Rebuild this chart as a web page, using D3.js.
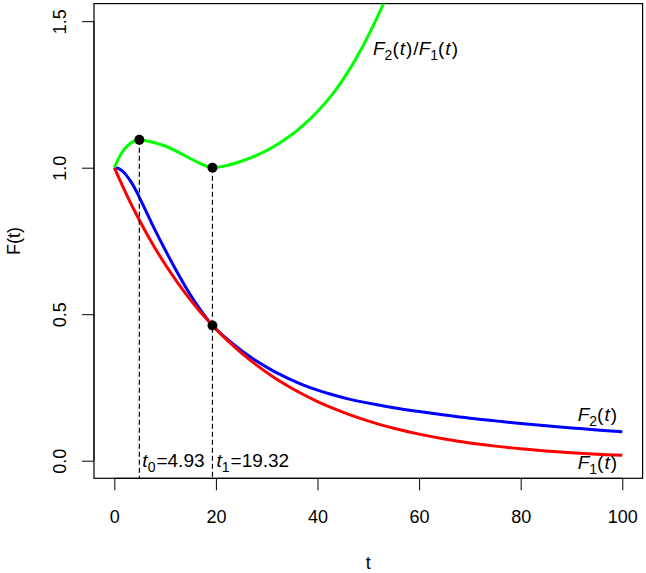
<!DOCTYPE html>
<html>
<head>
<meta charset="utf-8">
<script src="https://cdn.jsdelivr.net/npm/d3@7"></script>
<style>
  html, body { margin: 0; padding: 0; background: #fff; }
  svg { display: block; font-family: "Liberation Sans", Arial, sans-serif; }
</style>
</head>
<body>
<svg id="chart" width="646" height="573"></svg>
<script>
// ---- data ----
const tGrid = [0, 1, 2, 3, 4, 4.93, 6, 8, 10, 12, 14, 16, 18, 19.32, 22, 25, 28, 31, 34, 37, 40, 43, 46, 49, 52, 55, 60, 65, 70, 75, 80, 85, 90, 95, 100];
const F1 = [1, 0.9608, 0.9231, 0.8869, 0.8521, 0.8212, 0.7866, 0.7261, 0.6703, 0.6188, 0.5712, 0.5273, 0.4868, 0.4617, 0.4148, 0.3679, 0.3263, 0.2894, 0.2567, 0.2276, 0.2019, 0.1791, 0.1588, 0.1409, 0.1249, 0.1108, 0.0907, 0.0743, 0.0608, 0.0498, 0.0408, 0.0334, 0.0273, 0.0224, 0.0183];
const F2 = [1, 0.996, 0.982, 0.959, 0.931, 0.899, 0.860, 0.788, 0.720, 0.655, 0.594, 0.539, 0.490, 0.4617, 0.418, 0.376, 0.340, 0.309, 0.283, 0.260, 0.241, 0.225, 0.211, 0.200, 0.190, 0.181, 0.168, 0.156, 0.145, 0.136, 0.127, 0.119, 0.112, 0.105, 0.099];
const ratioT = [0, 1, 2, 3, 4, 4.93, 6, 8, 10, 12, 14, 16, 18, 19.32, 22, 25, 28, 31, 34, 37, 40, 43, 46, 49, 52, 55];
const ratio = [1.0, 1.037, 1.064, 1.081, 1.092, 1.095, 1.093, 1.085, 1.074, 1.058, 1.040, 1.022, 1.006, 1.000, 1.007, 1.022, 1.042, 1.068, 1.101, 1.142, 1.192, 1.252, 1.327, 1.417, 1.522, 1.642];
const t0 = 4.93, t1 = 19.32;
const t0Ratio = 1.095, t1Ratio = 1.0, t1F = 0.4617;
const xTicks = [0, 20, 40, 60, 80, 100];
const yTicks = [0.0, 0.5, 1.0, 1.5];
const yTickLabels = ["0.0", "0.5", "1.0", "1.5"];

// ---- layout ----
const L = 94, R = 642.6, T = 3.6, B = 478.3;
const svg = d3.select("#chart");
const x = d3.scaleLinear().domain([-4, 104]).range([L, R]);
const y = d3.scaleLinear().domain([-0.06, 1.56]).range([B, T]);
const FS = 18;

svg.append("defs").append("clipPath").attr("id", "clip")
  .append("rect").attr("x", L).attr("y", T).attr("width", R - L).attr("height", B - T);

// axes
const xAxis = svg.append("g").attr("transform", `translate(0,${B})`)
  .call(d3.axisBottom(x).tickValues(xTicks).tickSize(12).tickPadding(30).tickFormat(d3.format("d")));
xAxis.select(".domain").attr("d", `M${x(0)},0H${x(100)}`).attr("stroke", "#000");
xAxis.selectAll("text").attr("font-size", FS).attr("font-family", "Liberation Sans, Arial, sans-serif").attr("dy", 0).attr("y", 45);
xAxis.selectAll("line").attr("stroke", "#000");

const yAxis = svg.append("g").attr("transform", `translate(${L},0)`)
  .call(d3.axisLeft(y).tickValues(yTicks).tickSize(12).tickFormat((d, i) => yTickLabels[i]));
yAxis.select(".domain").attr("d", `M0,${y(0)}V${y(1.5)}`).attr("stroke", "#000");
yAxis.selectAll("line").attr("stroke", "#000");
yAxis.selectAll("text")
  .attr("font-size", FS).attr("font-family", "Liberation Sans, Arial, sans-serif")
  .attr("x", null).attr("dy", null).attr("text-anchor", "middle")
  .attr("transform", "translate(-28,0) rotate(-90)")
  .attr("y", 0);

// box
svg.append("rect").attr("x", L).attr("y", T).attr("width", R - L).attr("height", B - T)
  .attr("fill", "none").attr("stroke", "#000").attr("stroke-width", 1.2);

// axis titles
svg.append("text").attr("x", x(50)).attr("y", 569).attr("text-anchor", "middle")
  .attr("font-size", FS).text("t");
svg.append("text").attr("transform", `translate(20,${(T + B) / 2}) rotate(-90)`)
  .attr("text-anchor", "middle").attr("font-size", FS).text("F(t)");

// curves
const plot = svg.append("g").attr("clip-path", "url(#clip)");
const line = d3.line().x(d => x(d[0])).y(d => y(d[1])).curve(d3.curveCatmullRom.alpha(0.5));
plot.append("path").datum(tGrid.map((t, i) => [t, F2[i]]))
  .attr("d", line).attr("fill", "none").attr("stroke", "#0000ff").attr("stroke-width", 3);
plot.append("path").datum(tGrid.map((t, i) => [t, F1[i]]))
  .attr("d", line).attr("fill", "none").attr("stroke", "#ff0000").attr("stroke-width", 3);
plot.append("path").datum(ratioT.map((t, i) => [t, ratio[i]]))
  .attr("d", line).attr("fill", "none").attr("stroke", "#00ff00").attr("stroke-width", 3);

// dashed verticals
[[t0, t0Ratio], [t1, t1Ratio]].forEach(([t, v]) => {
  svg.append("line").attr("x1", x(t)).attr("x2", x(t)).attr("y1", y(v)).attr("y2", B)
    .attr("stroke", "#000").attr("stroke-width", 1.2).attr("stroke-dasharray", "5,3");
});

// points
[[t0, t0Ratio], [t1, t1Ratio], [t1, t1F]].forEach(([t, v]) => {
  svg.append("circle").attr("cx", x(t)).attr("cy", y(v)).attr("r", 5).attr("fill", "#000");
});

// math-like labels
function mathLabel(parts, px, py, anchor) {
  const tx = svg.append("text").attr("x", px).attr("y", py).attr("font-size", 19)
    .attr("text-anchor", anchor || "start");
  parts.forEach(p => {
    const s = tx.append("tspan").text(p.s);
    if (p.it) s.attr("font-style", "italic");
    if (p.sub) s.attr("font-size", 14).attr("dy", 5);
    if (p.up) s.attr("dy", -5);
    if (p.dx) s.attr("dx", p.dx);
  });
  return tx;
}
const Fsub = n => [{ s: "F", it: true }, { s: n, sub: true }, { s: "(", up: true }, { s: "t", it: true, dx: 1 }, { s: ")", dx: 1 }];

mathLabel([...Fsub("2"), { s: "/", dx: 1 }, ...Fsub("1")], 373, 55);
mathLabel(Fsub("2"), 617, 421, "end");
mathLabel(Fsub("1"), 617, 469, "end");
mathLabel([{ s: "t", it: true }, { s: "0", sub: true }, { s: "=4.93", up: true, dx: 1 }], x(t0) + 3, 467);
mathLabel([{ s: "t", it: true }, { s: "1", sub: true }, { s: "=19.32", up: true, dx: 1 }], x(t1) + 4, 467);
</script>
</body>
</html>
